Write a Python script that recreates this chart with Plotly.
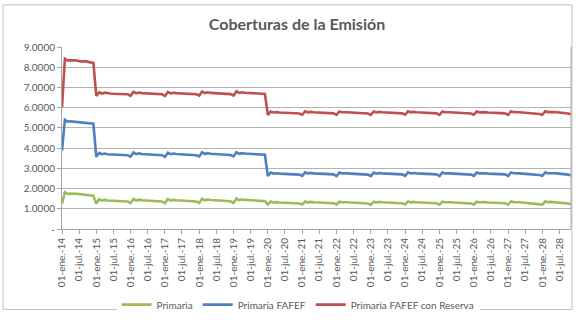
import pandas as pd
import plotly.graph_objects as go

# Monthly coverage ratios, January 2014 - November 2028
meses = pd.date_range("2014-01-01", periods=179, freq="MS")

primaria = [
    1.25, 1.82, 1.74, 1.76, 1.75, 1.74, 1.72, 1.70, 1.71, 1.68, 1.66, 1.65,
    1.26, 1.47, 1.40, 1.44, 1.41, 1.40, 1.39, 1.39, 1.38, 1.37, 1.36, 1.36,
    1.28, 1.49, 1.41, 1.45, 1.42, 1.41, 1.40, 1.40, 1.39, 1.38, 1.37, 1.36,
    1.27, 1.48, 1.41, 1.44, 1.42, 1.41, 1.40, 1.39, 1.39, 1.38, 1.37, 1.36,
    1.29, 1.50, 1.42, 1.46, 1.43, 1.42, 1.41, 1.40, 1.39, 1.39, 1.38, 1.37,
    1.29, 1.51, 1.43, 1.46, 1.44, 1.43, 1.42, 1.41, 1.40, 1.40, 1.39, 1.38,
    1.22, 1.36, 1.31, 1.33, 1.31, 1.30, 1.29, 1.29, 1.28, 1.27, 1.27, 1.26,
    1.21, 1.36, 1.32, 1.34, 1.32, 1.31, 1.30, 1.29, 1.29, 1.28, 1.27, 1.27,
    1.21, 1.35, 1.32, 1.33, 1.32, 1.31, 1.30, 1.29, 1.28, 1.28, 1.27, 1.26,
    1.20, 1.35, 1.31, 1.34, 1.32, 1.31, 1.30, 1.30, 1.29, 1.28, 1.27, 1.27,
    1.21, 1.36, 1.32, 1.34, 1.32, 1.31, 1.31, 1.30, 1.29, 1.28, 1.28, 1.27,
    1.20, 1.35, 1.32, 1.33, 1.32, 1.31, 1.30, 1.29, 1.29, 1.28, 1.27, 1.26,
    1.21, 1.35, 1.32, 1.34, 1.33, 1.31, 1.30, 1.30, 1.29, 1.27, 1.25, 1.27,
    1.20, 1.36, 1.33, 1.34, 1.32, 1.31, 1.30, 1.29, 1.27, 1.25, 1.23, 1.24,
    1.21, 1.36, 1.33, 1.34, 1.33, 1.32, 1.31, 1.30, 1.28, 1.26, 1.22,
]

primaria_fafef = [
    3.88, 5.40, 5.31, 5.33, 5.31, 5.30, 5.28, 5.26, 5.27, 5.24, 5.22, 5.21,
    3.57, 3.76, 3.70, 3.73, 3.70, 3.69, 3.68, 3.68, 3.67, 3.66, 3.65, 3.65,
    3.58, 3.78, 3.70, 3.74, 3.71, 3.70, 3.69, 3.69, 3.68, 3.67, 3.66, 3.65,
    3.57, 3.77, 3.70, 3.73, 3.71, 3.70, 3.69, 3.68, 3.68, 3.67, 3.66, 3.65,
    3.59, 3.79, 3.71, 3.75, 3.72, 3.71, 3.70, 3.69, 3.68, 3.68, 3.67, 3.66,
    3.59, 3.80, 3.72, 3.75, 3.73, 3.72, 3.71, 3.70, 3.69, 3.69, 3.68, 3.67,
    2.62, 2.79, 2.74, 2.76, 2.74, 2.73, 2.72, 2.72, 2.71, 2.70, 2.70, 2.69,
    2.63, 2.80, 2.75, 2.77, 2.75, 2.74, 2.73, 2.72, 2.72, 2.71, 2.70, 2.70,
    2.62, 2.79, 2.75, 2.76, 2.75, 2.74, 2.73, 2.72, 2.71, 2.71, 2.70, 2.69,
    2.62, 2.79, 2.74, 2.77, 2.75, 2.74, 2.73, 2.73, 2.72, 2.71, 2.70, 2.70,
    2.63, 2.80, 2.75, 2.77, 2.75, 2.74, 2.74, 2.73, 2.72, 2.71, 2.71, 2.70,
    2.62, 2.79, 2.75, 2.76, 2.75, 2.74, 2.73, 2.72, 2.72, 2.71, 2.70, 2.69,
    2.63, 2.79, 2.75, 2.77, 2.76, 2.74, 2.73, 2.73, 2.72, 2.70, 2.68, 2.70,
    2.62, 2.80, 2.76, 2.77, 2.75, 2.74, 2.73, 2.72, 2.70, 2.68, 2.66, 2.67,
    2.63, 2.80, 2.76, 2.77, 2.76, 2.75, 2.74, 2.73, 2.71, 2.69, 2.65,
]

primaria_fafef_reserva = [
    6.02, 8.42, 8.34, 8.35, 8.34, 8.33, 8.31, 8.28, 8.30, 8.26, 8.24, 8.22,
    6.58, 6.76, 6.70, 6.74, 6.71, 6.70, 6.69, 6.69, 6.68, 6.67, 6.66, 6.66,
    6.59, 6.79, 6.71, 6.75, 6.72, 6.71, 6.70, 6.70, 6.69, 6.68, 6.67, 6.66,
    6.58, 6.78, 6.71, 6.74, 6.72, 6.71, 6.70, 6.69, 6.69, 6.68, 6.67, 6.66,
    6.60, 6.80, 6.72, 6.76, 6.73, 6.72, 6.71, 6.70, 6.69, 6.69, 6.68, 6.67,
    6.60, 6.81, 6.73, 6.76, 6.74, 6.73, 6.72, 6.71, 6.70, 6.70, 6.69, 6.68,
    5.64, 5.81, 5.76, 5.78, 5.76, 5.75, 5.74, 5.74, 5.73, 5.72, 5.72, 5.71,
    5.65, 5.82, 5.77, 5.79, 5.77, 5.76, 5.75, 5.74, 5.74, 5.73, 5.72, 5.72,
    5.64, 5.81, 5.77, 5.78, 5.77, 5.76, 5.75, 5.74, 5.73, 5.73, 5.72, 5.71,
    5.64, 5.81, 5.76, 5.79, 5.77, 5.76, 5.75, 5.75, 5.74, 5.73, 5.72, 5.72,
    5.65, 5.82, 5.77, 5.79, 5.77, 5.76, 5.76, 5.75, 5.74, 5.73, 5.73, 5.72,
    5.64, 5.81, 5.77, 5.78, 5.77, 5.76, 5.75, 5.74, 5.74, 5.73, 5.72, 5.71,
    5.65, 5.81, 5.77, 5.79, 5.78, 5.76, 5.75, 5.75, 5.74, 5.72, 5.70, 5.72,
    5.64, 5.82, 5.78, 5.79, 5.77, 5.76, 5.75, 5.74, 5.72, 5.70, 5.68, 5.69,
    5.65, 5.82, 5.78, 5.79, 5.78, 5.77, 5.76, 5.75, 5.73, 5.71, 5.67,
]

# Semiannual tick labels on the date axis
fechas_ticks = pd.date_range("2014-01-01", "2028-07-01", freq="6MS")
etiquetas_x = [
    "01-ene.-14", "01-jul.-14", "01-ene.-15", "01-jul.-15", "01-ene.-16",
    "01-jul.-16", "01-ene.-17", "01-jul.-17", "01-ene.-18", "01-jul.-18",
    "01-ene.-19", "01-jul.-19", "01-ene.-20", "01-jul.-20", "01-ene.-21",
    "01-jul.-21", "01-ene.-22", "01-jul.-22", "01-ene.-23", "01-jul.-23",
    "01-ene.-24", "01-jul.-24", "01-ene.-25", "01-jul.-25", "01-ene.-26",
    "01-jul.-26", "01-ene.-27", "01-jul.-27", "01-ene.-28", "01-jul.-28",
]
valores_y = [0, 1, 2, 3, 4, 5, 6, 7, 8, 9]
etiquetas_y = ["-", "1.0000", "2.0000", "3.0000", "4.0000", "5.0000",
               "6.0000", "7.0000", "8.0000", "9.0000"]

series = [
    ("Primaria", primaria, "#9BBB59"),
    ("Primaria FAFEF", primaria_fafef, "#4F81BD"),
    ("Primaria FAFEF con Reserva", primaria_fafef_reserva, "#C0504D"),
]

FONT = "Lato, Carlito, Calibri, sans-serif"
GRAY = "#595959"

fig = go.Figure()
for nombre, valores, color in series:
    fig.add_trace(go.Scatter(
        x=meses, y=valores, name=nombre, mode="lines",
        line=dict(color=color, width=2.6),
    ))

W, H = 576, 324
ML, MR, MT, MB = 62, 5, 47, 87
pw, ph = W - ML - MR, H - MT - MB

def px_x(x):
    return (x - ML) / pw

def px_y(y):
    return (H - MB - y) / ph

fig.update_layout(
    width=W, height=H,
    margin=dict(l=ML, r=MR, t=MT, b=MB),
    paper_bgcolor="white", plot_bgcolor="white",
    font=dict(family=FONT, color=GRAY, size=10),
    title=dict(text="<b>Coberturas de la Emisión</b>",
               x=297 / W, xanchor="center", y=1 - 24 / H, yanchor="middle",
               font=dict(family=FONT, size=16, color=GRAY)),
    showlegend=True,
    legend=dict(orientation="h", x=px_x(298), xanchor="center",
                y=px_y(316), yanchor="middle",
                font=dict(family=FONT, size=10, color=GRAY),
                itemwidth=30, tracegroupgap=0),
    xaxis=dict(
        type="date",
        range=[meses[0], meses[-1]],
        tickvals=fechas_ticks, ticktext=etiquetas_x, tickangle=-90,
        showgrid=False, zeroline=False,
        ticks="outside", ticklen=4, tickcolor="#A6A6A6",
        showline=True, linecolor="#A6A6A6", linewidth=1,
        tickfont=dict(family=FONT, size=10, color=GRAY),
    ),
    yaxis=dict(
        range=[0, 9],
        tickvals=valores_y, ticktext=etiquetas_y,
        showgrid=True, gridcolor="#B3B3B3", gridwidth=1,
        zeroline=False,
        showline=True, linecolor="#A6A6A6", linewidth=1,
        ticks="outside", ticklen=4, tickcolor="#A6A6A6",
        tickfont=dict(family=FONT, size=10, color=GRAY),
    ),
    shapes=[
        # plot area right edge
        dict(type="line", xref="paper", yref="paper", x0=1, x1=1, y0=0, y1=1,
             line=dict(color="#A6A6A6", width=1)),
        # chart frame
        dict(type="rect", xref="paper", yref="paper",
             x0=px_x(3), x1=px_x(572), y0=px_y(321), y1=px_y(3),
             line=dict(color="#BFBFBF", width=1), layer="below"),
    ],
)

fig.write_html("out.html")
